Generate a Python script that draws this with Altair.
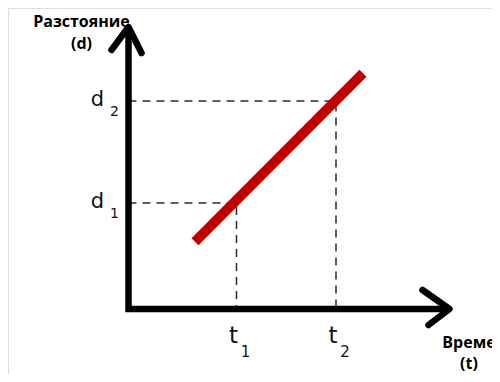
import altair as alt
import pandas as pd

# ---- diagram values (time t, distance d), in diagram units ----
t_marks = [10.8, 20.75]          # t1, t2
d_marks = [10.6, 20.8]           # d1, d2
sub_idx = ["1", "2"]

line_t = [6.65, 23.45]           # red line endpoints (time)
line_d = [6.73, 23.57]           # red line endpoints (distance)

axis_t_end = 32.1
axis_d_end = 28.2

yarrow_t = [-1.7, 0.0, 1.3]
yarrow_d = [25.9, 28.2, 25.6]
xarrow_t = [29.4, 32.1, 30.0]
xarrow_d = [1.9, 0.0, -1.6]

y_title = "Разстояние\n(d)"
x_title = "Време\n(t)"

# ---- tables ----
axes_df = pd.DataFrame({"t": [0.0, 0.0, axis_t_end], "d": [axis_d_end, 0.0, 0.0], "o": [0, 1, 2]})

arrow_rows = []
for g, (ts, ds) in enumerate([(yarrow_t, yarrow_d), (xarrow_t, xarrow_d)]):
    for o, (t, d) in enumerate(zip(ts, ds)):
        arrow_rows.append({"g": g, "o": o, "t": t, "d": d})
arrows_df = pd.DataFrame(arrow_rows)

guide_rows = []
for g, (t, d) in enumerate(zip(t_marks, d_marks)):
    guide_rows += [
        {"g": g, "o": 0, "t": 0.0, "d": d},
        {"g": g, "o": 1, "t": t, "d": d},
        {"g": g, "o": 2, "t": t, "d": 0.0},
    ]
guides_df = pd.DataFrame(guide_rows)

red_df = pd.DataFrame({"t": line_t, "d": line_d, "o": [0, 1]})

dlab_df = pd.DataFrame({"t": [0.0, 0.0], "d": d_marks, "main": ["d", "d"], "sub": sub_idx})
tlab_df = pd.DataFrame({"t": t_marks, "d": [0.0, 0.0], "main": ["t", "t"], "sub": sub_idx})

ytitle_df = pd.DataFrame({"t": [0.0], "d": [axis_d_end], "txt": [y_title]})
xtitle_df = pd.DataFrame({"t": [axis_t_end], "d": [0.0], "txt": [x_title]})

# ---- scales: 10 px per unit, origin at (120.5, 301) ----
xs = alt.Scale(domain=[0, 10], range=[120.5, 220.5], nice=False, zero=False)
ys = alt.Scale(domain=[0, 10], range=[301, 201], nice=False, zero=False)


def X():
    return alt.X("t:Q", scale=xs, axis=None)


def Y():
    return alt.Y("d:Q", scale=ys, axis=None)


guides = alt.Chart(guides_df).mark_line(
    color="#2a2a2a", strokeWidth=1.5, strokeDash=[8, 6]
).encode(x=X(), y=Y(), detail="g:N", order="o:Q")

red = alt.Chart(red_df).mark_line(
    color="#C00000", strokeWidth=10, strokeCap="butt"
).encode(x=X(), y=Y(), order="o:Q")

axes = alt.Chart(axes_df).mark_line(
    color="black", strokeWidth=6.5, strokeJoin="miter", strokeCap="butt"
).encode(x=X(), y=Y(), order="o:Q")

arrows = alt.Chart(arrows_df).mark_line(
    color="black", strokeWidth=6.5, strokeJoin="round", strokeCap="round"
).encode(x=X(), y=Y(), detail="g:N", order="o:Q")

font_lbl = "DejaVu Sans"
d_main = alt.Chart(dlab_df).mark_text(
    font=font_lbl, fontSize=21, color="#111111", align="center", baseline="alphabetic", dx=-31, dy=5
).encode(x=X(), y=Y(), text="main:N")
d_sub = alt.Chart(dlab_df).mark_text(
    font=font_lbl, fontSize=14, color="#111111", align="center", baseline="alphabetic", dx=-14, dy=15
).encode(x=X(), y=Y(), text="sub:N")
t_main = alt.Chart(tlab_df).mark_text(
    font=font_lbl, fontSize=23, color="#111111", align="center", baseline="alphabetic", dx=-3, dy=34
).encode(x=X(), y=Y(), text="main:N")
t_sub = alt.Chart(tlab_df).mark_text(
    font=font_lbl, fontSize=15, color="#111111", align="center", baseline="alphabetic", dx=9, dy=48
).encode(x=X(), y=Y(), text="sub:N")

font_title = "Open Sans"
y_t = alt.Chart(ytitle_df).mark_text(
    font=font_title, fontSize=16, fontWeight="bold", color="black", align="center",
    baseline="alphabetic", lineBreak="\n", lineHeight=21.5, dx=-47, dy=0
).encode(x=X(), y=Y(), text="txt:N")
x_t = alt.Chart(xtitle_df).mark_text(
    font=font_title, fontSize=16, fontWeight="bold", color="black", align="center",
    baseline="alphabetic", lineBreak="\n", lineHeight=21, dx=19.5, dy=39
).encode(x=X(), y=Y(), text="txt:N")

chart = alt.layer(
    guides, red, axes, arrows, d_main, d_sub, t_main, t_sub, y_t, x_t
).properties(
    width=484, height=366, padding=0, autosize=alt.AutoSizeParams(type="none")
).configure_view(stroke=None).configure(background="white")

chart.save("out.html", embed_options={"renderer": "svg", "actions": False})
